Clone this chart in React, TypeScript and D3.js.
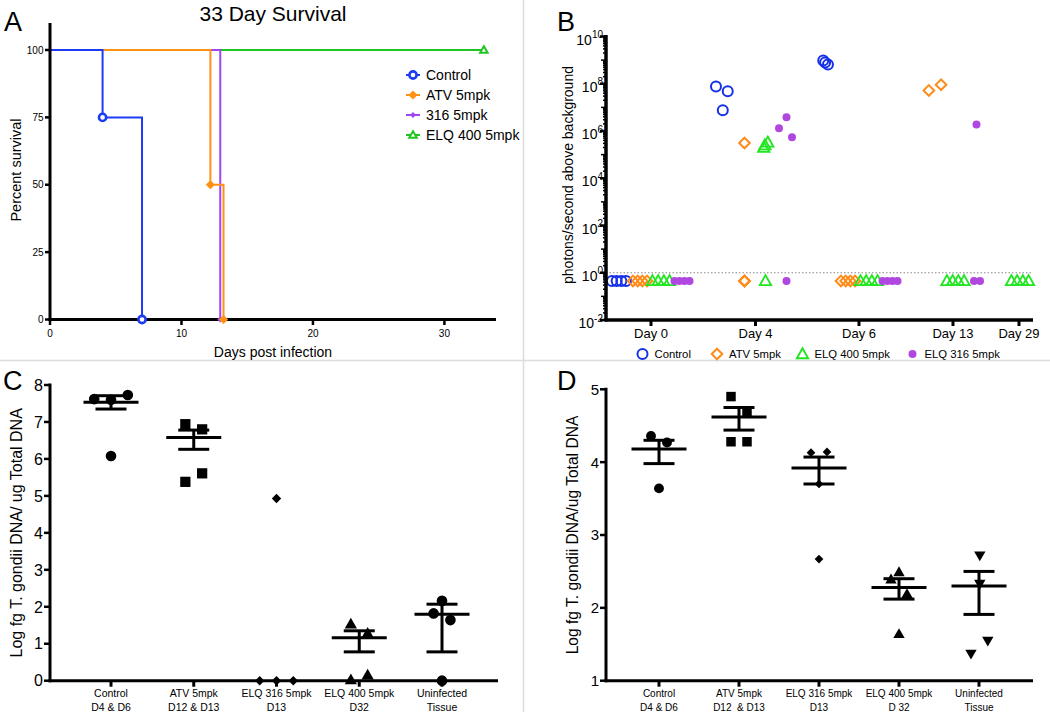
import React from "react";
import * as d3 from "d3";

const FONT = "'Liberation Sans', Arial, Helvetica, sans-serif";

// ---------- Panel A: 33 day survival ----------
const survivalNames = ["Control", "ATV 5mpk", "316 5mpk", "ELQ 400 5mpk"];
const survivalColors = ["#1c3cf4", "#ff9214", "#a046f0", "#22c422"];
const survivalShapes = ["circle", "diamond", "dot", "triangle"];
const controlSurvival: [number, number][] = [[0, 100], [4, 75], [7, 0]];
const atvSurvival: [number, number][] = [[0, 100], [12.2, 50], [13.2, 0]];
const elq316Survival: [number, number][] = [[0, 100], [12.95, 0]];
const elq400Survival: [number, number][] = [[0, 100], [33, 100]];
const survivalXTicks = [0, 10, 20, 30];
const survivalYTicks = [0, 25, 50, 75, 100];

// ---------- Panel B: imaging ----------
const imagingDays = ["Day 0", "Day 4", "Day 6", "Day 13", "Day 29"];
const imagingNames = ["Control", "ATV 5mpk", "ELQ 400 5mpk", "ELQ 316 5mpk"];
const imagingColors = ["#1530e8", "#ff8c1a", "#22e622", "#b048e0"];
const imagingShapes = ["ring", "odiamond", "otriangle", "dot"];
const imagingYExponents = [-2, 0, 2, 4, 6, 8, 10];
const notDetectedValue = 0.45; // plotted level for "0" (below background)
// [day index, photons/s (0 = below background), dodge]
const controlPhotons: [number, number, number][] = [
  [0, 0, -1.5], [0, 0, -0.5], [0, 0, 0.5], [0, 0, 1.5],
  [1, 7.7e7, -1.6], [1, 7.5e6, -0.15], [1, 4.8e7, 0.9],
  [2, 9.7e8, -0.8], [2, 7.9e8, -0.4], [2, 6.6e8, 0.2],
];
const atvPhotons: [number, number, number][] = [
  [0, 0, -1.5], [0, 0, -0.5], [0, 0, 0.5], [0, 0, 1.5],
  [1, 3.1e5, 0], [1, 0, 0], [1, 0, 0], [1, 0, 0],
  [2, 0, -1.5], [2, 0, -0.5], [2, 0, 0.5], [2, 0, 1.5],
  [3, 5.2e7, -1.2], [3, 9.1e7, 1.4],
];
const elq400Photons: [number, number, number][] = [
  [0, 0, -1.5], [0, 0, -0.5], [0, 0, 0.5], [0, 0, 1.5],
  [1, 2.5e5, -0.1], [1, 3.3e5, 0.4], [1, 2.0e5, -0.3], [1, 0, 0],
  [2, 0, -1.5], [2, 0, -0.5], [2, 0, 0.5], [2, 0, 1.5],
  [3, 0, -1.5], [3, 0, -0.5], [3, 0, 0.5], [3, 0, 1.5],
  [4, 0, -1.5], [4, 0, -0.5], [4, 0, 0.5], [4, 0, 1.5],
];
const elq316Photons: [number, number, number][] = [
  [0, 0, -1.5], [0, 0, -0.5], [0, 0, 0.5], [0, 0, 1.5],
  [1, 1.3e6, -1.5], [1, 3.8e6, 0], [1, 5.4e5, 1.1], [1, 0, 0],
  [2, 0, -1.5], [2, 0, -0.5], [2, 0, 0.5], [2, 0, 1.5],
  [3, 1.9e6, 0], [3, 0, -0.5], [3, 0, 0.7],
];
const imagingSeries = [controlPhotons, atvPhotons, elq400Photons, elq316Photons];

// ---------- Panels C & D: qPCR ----------
const dnaLine1 = ["Control", "ATV 5mpk", "ELQ 316 5mpk", "ELQ 400 5mpk", "Uninfected"];
const dnaLine2C = ["D4 & D6", "D12 & D13", "D13", "D32", "Tissue"];
const dnaLine2D = ["D4 & D6", "D12  & D13", "D13", "D 32", "Tissue"];
const cShapes = ["circle", "square", "diamond", "triangle", "circle"];
const dShapes = ["circle", "square", "diamond", "triangle", "triangleDown"];

const cValues = [
  [7.62, 7.6, 7.73, 6.08],
  [6.94, 6.8, 5.38, 5.61],
  [4.93, 0, 0, 0],
  [1.51, 1.26, 0, 0.13],
  [2.16, 1.82, 1.64, 0],
];
const cDodge = [
  [-2, 0, 2, 0],
  [-1, 1, -1, 1],
  [0, -2, 0, 2],
  [-1, 1, -1, 1],
  [0, -1, 1, 0],
];
const cMean = [7.53, 6.58, null, 1.16, 1.8];
const cLow = [7.35, 6.26, null, 0.78, 0.78];
const cHigh = [7.71, 6.78, null, 1.35, 2.07];
const cYTicks = [0, 1, 2, 3, 4, 5, 6, 7, 8];

const dValues = [
  [4.36, 4.27, 3.64],
  [4.9, 4.69, 4.28, 4.28],
  [4.13, 4.14, 3.7, 2.67],
  [2.38, 2.48, 2.18, 1.63],
  [2.73, 2.34, 1.56, 1.38],
];
const dDodge = [
  [-1, 1, 0],
  [-1, 1, -1, 1],
  [-1, 1, 0, 0],
  [-1, 0, 1, 0],
  [0.1, 0.1, 1.1, -1],
];
const dMean = [4.18, 4.62, 3.92, 2.28, 2.3];
const dLow = [3.98, 4.44, 3.7, 2.12, 1.91];
const dHigh = [4.3, 4.75, 4.07, 2.4, 2.5];
const dYTicks = [1, 2, 3, 4, 5];

// ---------- marker helpers ----------
function survivalMarker(shape: string, x: number, y: number, color: string, key: string) {
  if (shape === "circle")
    return <circle key={key} cx={x} cy={y} r={3.6} fill="#fff" stroke={color} strokeWidth={2.6} />;
  if (shape === "diamond")
    return <path key={key} d={`M${x},${y - 4.6}L${x + 4.6},${y}L${x},${y + 4.6}L${x - 4.6},${y}Z`} fill={color} />;
  if (shape === "dot")
    return <path key={key} d={`M${x},${y - 3}L${x + 3},${y}L${x},${y + 3}L${x - 3},${y}Z`} fill={color} />;
  return (
    <path key={key} d={`M${x},${y - 3.8}L${x + 3.8},${y + 2.8}L${x - 3.8},${y + 2.8}Z`} fill="#fff" stroke={color} strokeWidth={2} />
  );
}

function imagingMarker(shape: string, x: number, y: number, color: string, key: string) {
  if (shape === "ring")
    return <circle key={key} cx={x} cy={y} r={5} fill="none" stroke={color} strokeWidth={2} />;
  if (shape === "odiamond")
    return <path key={key} d={`M${x},${y - 5.3}L${x + 5.3},${y}L${x},${y + 5.3}L${x - 5.3},${y}Z`} fill="none" stroke={color} strokeWidth={2} />;
  if (shape === "otriangle")
    return <path key={key} d={`M${x},${y - 5.8}L${x + 5.6},${y + 4.2}L${x - 5.6},${y + 4.2}Z`} fill="none" stroke={color} strokeWidth={1.9} />;
  return <circle key={key} cx={x} cy={y} r={4} fill={color} />;
}

const symbolTypes: Record<string, any> = {
  circle: d3.symbolCircle,
  square: d3.symbolSquare,
  diamond: d3.symbolSquare,
  triangle: d3.symbolTriangle,
  triangleDown: d3.symbolTriangle,
};

function dnaMarker(shape: string, x: number, y: number, scale: number, key: string) {
  const sizes: Record<string, number> = { circle: 85, square: 100, diamond: 42, triangle: 62, triangleDown: 62 };
  const d = d3.symbol().type(symbolTypes[shape]).size(sizes[shape] * scale)() as string;
  const rot = shape === "diamond" ? 45 : shape === "triangleDown" ? 180 : 0;
  return <path key={key} d={d} transform={`translate(${x},${y}) rotate(${rot})`} fill="#000" />;
}

function DnaPanel(props: {
  letter: string;
  letterX: number;
  x0: number;
  x1: number;
  catRange: [number, number];
  yDomain: [number, number];
  yRange: [number, number];
  yTicks: number[];
  values: number[][];
  dodge: number[][];
  dodgeUnit: number;
  mean: (number | null)[];
  low: (number | null)[];
  high: (number | null)[];
  shapes: string[];
  line2: string[];
  yLabel: string;
  yLabelX: number;
  yLabelSize: number;
  tickSize: number;
  catSize: number;
  markerScale: number;
}) {
  const p = props;
  const x = d3.scalePoint<string>().domain(dnaLine1).range(p.catRange);
  const y = d3.scaleLinear().domain(p.yDomain).range(p.yRange);
  const yb = y(p.yDomain[0]);
  const yt = y(p.yDomain[1]);
  const meanW = 55;
  const capW = 31;
  return (
    <g>
      <text x={p.letterX} y={390} fontSize={27} fontFamily={FONT}>{p.letter}</text>
      <text
        transform={`translate(${p.yLabelX},${(yb + yt) / 2}) rotate(-90)`}
        textAnchor="middle"
        fontSize={p.yLabelSize}
        fontFamily={FONT}
      >
        {p.yLabel}
      </text>
      {p.values.map((vals, gi) =>
        vals.map((v, i) =>
          dnaMarker(p.shapes[gi], (x(dnaLine1[gi]) as number) + p.dodge[gi][i] * p.dodgeUnit, y(v), p.markerScale, `m${gi}-${i}`)
        )
      )}
      {p.mean.map((m, gi) => {
        if (m === null) return null;
        const cx = x(dnaLine1[gi]) as number;
        const lo = y(p.low[gi] as number);
        const hi = y(p.high[gi] as number);
        return (
          <g key={`e${gi}`} stroke="#000" strokeWidth={3} fill="none">
            <line x1={cx - meanW / 2} x2={cx + meanW / 2} y1={y(m)} y2={y(m)} />
            <line x1={cx} x2={cx} y1={lo} y2={hi} />
            <line x1={cx - capW / 2} x2={cx + capW / 2} y1={lo} y2={lo} />
            <line x1={cx - capW / 2} x2={cx + capW / 2} y1={hi} y2={hi} />
          </g>
        );
      })}
      <line x1={p.x0} x2={p.x0} y1={yt - 1.5} y2={yb + 1.5} stroke="#000" strokeWidth={3} />
      <line x1={p.x0 - 1.5} x2={p.x1} y1={yb} y2={yb} stroke="#000" strokeWidth={3} />
      {p.yTicks.map((t) => (
        <g key={`yt${t}`}>
          <line x1={p.x0 - 6} x2={p.x0} y1={y(t)} y2={y(t)} stroke="#000" strokeWidth={2.5} />
          <text x={p.x0 - 7} y={y(t) + p.tickSize * 0.36} textAnchor="end" fontSize={p.tickSize} fontFamily={FONT}>
            {t}
          </text>
        </g>
      ))}
      {dnaLine1.map((c, gi) => {
        const cx = x(c) as number;
        return (
          <g key={`xt${gi}`}>
            <line x1={cx} x2={cx} y1={yb} y2={yb + 6} stroke="#000" strokeWidth={3} />
            <text x={cx} y={697} textAnchor="middle" fontSize={p.catSize} fontFamily={FONT}>{c}</text>
            <text x={cx} y={710.5} textAnchor="middle" fontSize={p.catSize} fontFamily={FONT} style={{ whiteSpace: "pre" }}>
              {p.line2[gi]}
            </text>
          </g>
        );
      })}
    </g>
  );
}

export default function App() {
  // ----- Panel A scales -----
  const ax = d3.scaleLinear().domain([0, 34]).range([50, 497]);
  const ay = d3.scaleLinear().domain([0, 100]).range([319.5, 50]);
  const step = d3
    .line<[number, number]>()
    .x((d) => ax(d[0]))
    .y((d) => ay(d[1]))
    .curve(d3.curveStepAfter);
  const survivalSeries = [controlSurvival, atvSurvival, elq316Survival, elq400Survival];
  const drawOrder = [3, 2, 1, 0];

  // ----- Panel B scales -----
  const bx = d3.scaleLinear().domain([0, 1, 2, 3, 4]).range([651, 755.5, 859, 953, 1019]);
  const by = d3.scaleLog().domain([1e-2, 1e10]).range([320, 36.5]);
  const groupOffset = [-32, -11, 10, 31];
  const dayShift = [0, 0, 0, -7.5, -9];
  const dodgeStep = [4.7, 4.7, 5.7, 5.0];
  const minorTicks: { v: number; len: number }[] = [];
  for (let k = -2; k < 10; k++) {
    for (let m = 2; m <= 9; m++) minorTicks.push({ v: m * Math.pow(10, k), len: 3 });
    if (k % 2 !== 0) minorTicks.push({ v: Math.pow(10, k), len: 5 });
  }
  const bLegendX = [642.5, 717, 802.5, 912.5];

  return (
    <svg
      width={1050}
      height={712}
      viewBox="0 0 1050 712"
      style={{ position: "absolute", left: 0, top: 0, background: "#fff" }}
      fontFamily={FONT}
    >
      <rect x={0} y={0} width={1050} height={712} fill="#fff" />
      <line x1={523.5} x2={523.5} y1={0} y2={712} stroke="#dcdcdc" strokeWidth={1.5} />
      <line x1={0} x2={1050} y1={360.5} y2={360.5} stroke="#dcdcdc" strokeWidth={1.5} />

      {/* ================= Panel A ================= */}
      <g>
        <text x={4} y={31} fontSize={27} fontFamily={FONT}>A</text>
        <text x={273} y={21} textAnchor="middle" fontSize={21} fontFamily={FONT}>33 Day Survival</text>
        <text transform={`translate(21,170) rotate(-90)`} textAnchor="middle" fontSize={14.5} fontFamily={FONT}>
          Percent survival
        </text>
        <text x={273} y={357} textAnchor="middle" fontSize={14} fontFamily={FONT}>Days post infection</text>
        {drawOrder.map((gi) => (
          <path key={`s${gi}`} d={step(survivalSeries[gi]) as string} fill="none" stroke={survivalColors[gi]} strokeWidth={2} />
        ))}
        <line x1={50} x2={50} y1={23} y2={321} stroke="#000" strokeWidth={3} />
        <line x1={48.5} x2={496} y1={319.5} y2={319.5} stroke="#000" strokeWidth={3} />
        {survivalYTicks.map((t) => (
          <g key={`ay${t}`}>
            <line x1={45} x2={50} y1={ay(t)} y2={ay(t)} stroke="#000" strokeWidth={2.5} />
            <text x={43.5} y={ay(t) + 3.6} textAnchor="end" fontSize={10} fontFamily={FONT}>{t}</text>
          </g>
        ))}
        {survivalXTicks.map((t) => (
          <g key={`ax${t}`}>
            <line x1={ax(t)} x2={ax(t)} y1={319.5} y2={325} stroke="#000" strokeWidth={2.5} />
            <text x={ax(t)} y={337} textAnchor="middle" fontSize={10} fontFamily={FONT}>{t}</text>
          </g>
        ))}
        {drawOrder.map((gi) =>
          survivalSeries[gi].slice(1).map((d, i) =>
            survivalMarker(survivalShapes[gi], ax(d[0]), ay(d[1]), survivalColors[gi], `sm${gi}-${i}`)
          )
        )}
        {survivalNames.map((n, i) => {
          const ly = 75 + i * 20;
          return (
            <g key={`al${i}`}>
              <line x1={406} x2={420} y1={ly} y2={ly} stroke={survivalColors[i]} strokeWidth={2} />
              {survivalMarker(survivalShapes[i], 413, ly, survivalColors[i], `alm${i}`)}
              <text x={426} y={ly + 5} fontSize={14} fontFamily={FONT}>{n}</text>
            </g>
          );
        })}
      </g>

      {/* ================= Panel B ================= */}
      <g>
        <text x={557} y={31} fontSize={27} fontFamily={FONT}>B</text>
        <text transform={`translate(573,175) rotate(-90)`} textAnchor="middle" fontSize={14} fontFamily={FONT}>
          photons/second above background
        </text>
        <line x1={606} x2={1033} y1={by(1)} y2={by(1)} stroke="#888" strokeWidth={1} strokeDasharray="1.5,2" />
        {imagingSeries.map((series, gi) =>
          series.map((pt, i) => {
            const [day, v, j] = pt;
            const px = bx(day) + groupOffset[gi] + dayShift[day] + j * dodgeStep[gi];
            const py = by(v > 0 ? v : notDetectedValue);
            return imagingMarker(imagingShapes[gi], px, py, imagingColors[gi], `b${gi}-${i}`);
          })
        )}
        <line x1={606} x2={606} y1={35} y2={321.5} stroke="#000" strokeWidth={3.5} />
        <line x1={604.5} x2={1033} y1={320} y2={320} stroke="#000" strokeWidth={3.5} />
        {minorTicks.map((t, i) => (
          <line key={`mt${i}`} x1={606 - t.len} x2={606} y1={by(t.v)} y2={by(t.v)} stroke="#000" strokeWidth={1.5} />
        ))}
        {imagingYExponents.map((e) => (
          <g key={`by${e}`}>
            <line x1={600} x2={606} y1={by(Math.pow(10, e))} y2={by(Math.pow(10, e))} stroke="#000" strokeWidth={2.5} />
            <text x={603} y={by(Math.pow(10, e)) + 8} textAnchor="end" fontFamily={FONT} fontSize={14}>
              <tspan fontSize={14}>10</tspan>
              <tspan fontSize={10} dy={-6.5}>{String(e)}</tspan>
            </text>
          </g>
        ))}
        {imagingDays.map((d, i) => (
          <g key={`bx${i}`}>
            <line x1={bx(i)} x2={bx(i)} y1={320} y2={326} stroke="#000" strokeWidth={3} />
            <text x={bx(i)} y={338} textAnchor="middle" fontSize={13} fontFamily={FONT}>{d}</text>
          </g>
        ))}
        {imagingNames.map((n, i) => (
          <g key={`bl${i}`}>
            {imagingMarker(imagingShapes[i], bLegendX[i], 354, imagingColors[i], `blm${i}`)}
            <text x={bLegendX[i] + 12} y={358} fontSize={11.3} fontFamily={FONT}>{n}</text>
          </g>
        ))}
      </g>

      {/* ================= Panel C ================= */}
      <DnaPanel
        letter="C"
        letterX={3}
        x0={50}
        x1={498}
        catRange={[111, 442]}
        yDomain={[0, 8]}
        yRange={[680.7, 385]}
        yTicks={cYTicks}
        values={cValues}
        dodge={cDodge}
        dodgeUnit={8.4}
        mean={cMean}
        low={cLow}
        high={cHigh}
        shapes={cShapes}
        line2={dnaLine2C}
        yLabel="Log fg T. gondii DNA/ ug Total DNA"
        yLabelX={22}
        yLabelSize={16}
        tickSize={16}
        catSize={10.5}
        markerScale={1.05}
      />

      {/* ================= Panel D ================= */}
      <DnaPanel
        letter="D"
        letterX={557}
        x0={606}
        x1={1033}
        catRange={[659, 979]}
        yDomain={[1, 5]}
        yRange={[680.7, 389.3]}
        yTicks={dYTicks}
        values={dValues}
        dodge={dDodge}
        dodgeUnit={8}
        mean={dMean}
        low={dLow}
        high={dHigh}
        shapes={dShapes}
        line2={dnaLine2D}
        yLabel="Log fg T. gondii DNA/ug Total DNA"
        yLabelX={578}
        yLabelSize={15.6}
        tickSize={15}
        catSize={10}
        markerScale={0.9}
      />
    </svg>
  );
}
